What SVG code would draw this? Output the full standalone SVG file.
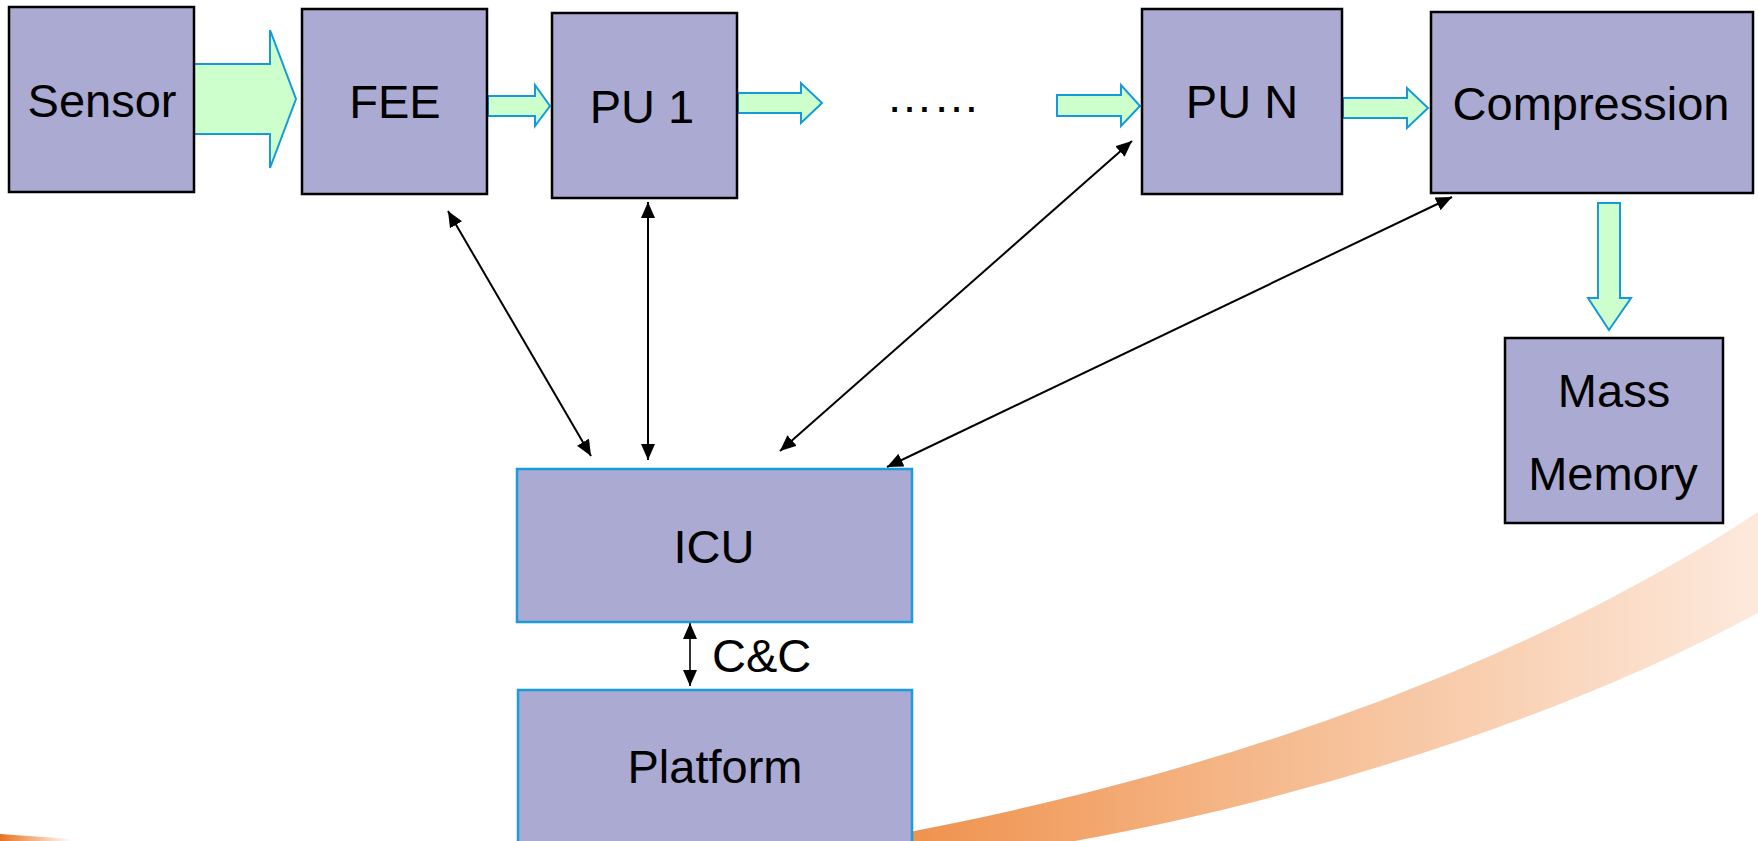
<svg xmlns="http://www.w3.org/2000/svg" width="1758" height="841" viewBox="0 0 1758 841">
<style>
.box{fill:#aaaad2;stroke:#000;stroke-width:2.5}
.bbox{fill:#aaaad2;stroke:#1a9be0;stroke-width:2.5}
.lbl{font-family:"Liberation Sans",Arial,sans-serif;font-size:47px;fill:#000;text-anchor:middle}
.fat{fill:#ccffcc;stroke:#149ad8;stroke-width:2;stroke-linejoin:miter}
.thin{stroke:#000;stroke-width:2;fill:none;marker-start:url(#ah);marker-end:url(#ah)}
</style>
<defs>
<marker id="ah" viewBox="0 0 16 14" refX="16" refY="7" markerWidth="16" markerHeight="14" markerUnits="userSpaceOnUse" orient="auto-start-reverse">
<path d="M0,0 L16,7 L0,14 z" fill="#000"/>
</marker>
<linearGradient id="sw" gradientUnits="userSpaceOnUse" x1="880" y1="0" x2="1758" y2="0">
<stop offset="0" stop-color="#ef8f48"/>
<stop offset="0.5" stop-color="#f6bf96"/>
<stop offset="1" stop-color="#fde9dc"/>
</linearGradient>
<linearGradient id="sw2" gradientUnits="userSpaceOnUse" x1="0" y1="0" x2="72" y2="0">
<stop offset="0" stop-color="#e8731e"/>
<stop offset="1" stop-color="#ffffff"/>
</linearGradient>
</defs>
<rect width="1758" height="841" fill="#fff"/>
<g id="background">
<path d="M1758 512 C1610 610 1320 760 860 841 L1075 841 C1300 800 1560 720 1758 613 Z" fill="url(#sw)"/>
<path d="M0 834 L72 839 L72 841 L0 841 Z" fill="url(#sw2)"/>
</g>
<g id="connectors">
<polygon class="fat" points="194,64 270,64 270,30 296,99 270,168 270,134 194,134"/>
<polygon class="fat" points="488,96 535,96 535,85 550,106 535,126 535,116 488,116"/>
<polygon class="fat" points="738,93 801,93 801,83 822,103 801,123 801,113 738,113"/>
<polygon class="fat" points="1057,95 1121,95 1121,85 1140,106 1121,126 1121,116 1057,116"/>
<polygon class="fat" points="1343,98 1407,98 1407,88 1428,108 1407,128 1407,118 1343,118"/>
<polygon class="fat" points="1598,203 1620,203 1620,298 1631,298 1609,330 1588,298 1598,298"/>
<line class="thin" x1="448" y1="211" x2="591" y2="456"/>
<line class="thin" x1="648" y1="202" x2="648" y2="460"/>
<line class="thin" x1="1132" y1="141" x2="780" y2="451"/>
<line class="thin" x1="1452" y1="197" x2="887" y2="467"/>
<line class="thin" x1="690" y1="623" x2="690" y2="686" style="stroke-width:1.6"/>
<text class="lbl" x="712" y="672" style="text-anchor:start">C&amp;C</text>
</g>
<g id="sensor"><rect class="box" x="9" y="7" width="185" height="185"/><text class="lbl" x="102" y="117">Sensor</text></g>
<g id="fee"><rect class="box" x="302" y="9" width="185" height="185"/><text class="lbl" x="395" y="118">FEE</text></g>
<g id="pu1"><rect class="box" x="552" y="13" width="185" height="185"/><text class="lbl" x="642" y="123">PU 1</text></g>
<g id="ellipsis"><text class="lbl" x="933" y="112">……</text></g>
<g id="pun"><rect class="box" x="1142" y="9" width="200" height="185"/><text class="lbl" x="1242" y="118">PU N</text></g>
<g id="compression"><rect class="box" x="1431" y="12" width="322" height="181"/><text class="lbl" x="1591" y="120">Compression</text></g>
<g id="massmemory"><rect class="box" x="1505" y="338" width="218" height="185"/><text class="lbl" x="1614" y="407">Mass</text><text class="lbl" x="1613" y="490">Memory</text></g>
<g id="icu"><rect class="bbox" x="517" y="469" width="395" height="153"/><text class="lbl" x="714" y="563">ICU</text></g>
<g id="platform"><rect class="bbox" x="518" y="690" width="394" height="200"/><text class="lbl" x="715" y="783">Platform</text></g>
</svg>
